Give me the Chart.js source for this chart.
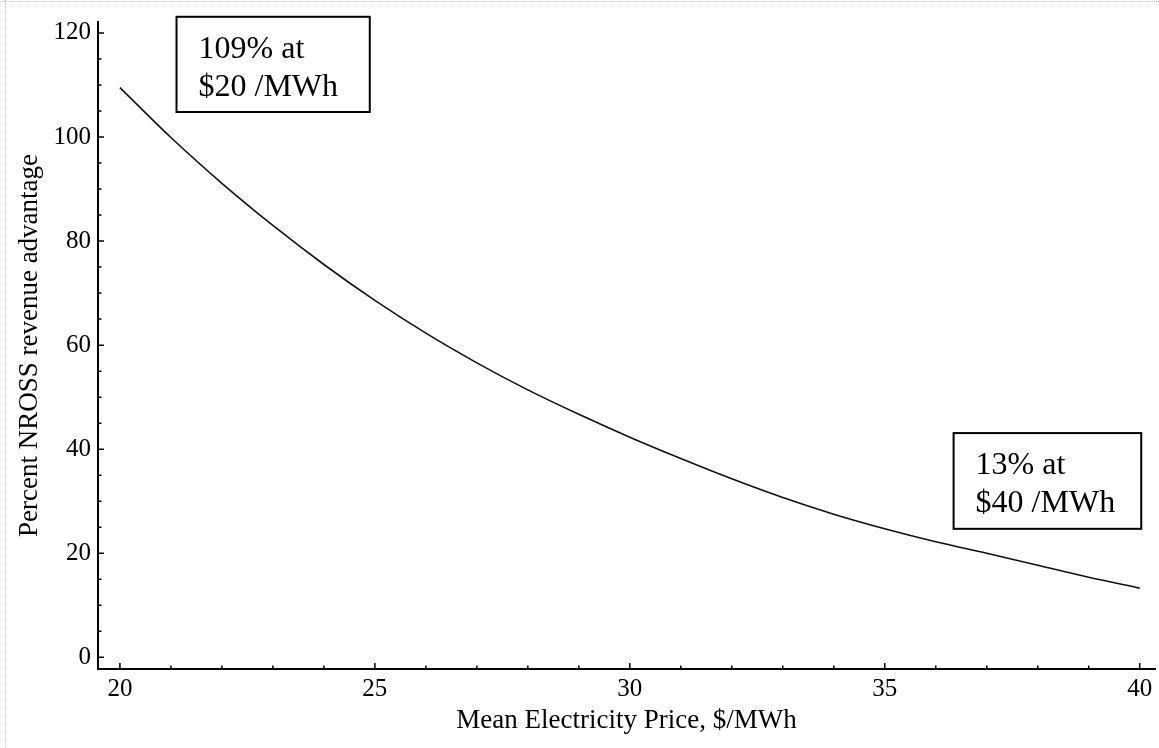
<!DOCTYPE html>
<html>
<head>
<meta charset="utf-8">
<script src="https://cdn.jsdelivr.net/npm/chart.js@4"></script>
<style>
  body { margin: 0; background: #fff; }
  #wrap { position: relative; width: 1159px; height: 748px; }
  .scanLeft { position: absolute; left: 5px; top: 0; width: 0; height: 748px; border-left: 1px dotted #c8c8c8; }
  .scanTop { position: absolute; left: 0; top: 1px; width: 1159px; height: 0; border-top: 1px dotted #d0d0d0; }
</style>
</head>
<body>
<div id="wrap">
  <canvas id="chart"></canvas>
  <div class="scanLeft"></div>
  <div class="scanTop"></div>
</div>
<script>
// mean electricity price ($/MWh) and NROSS revenue advantage (%)
const prices = [20, 21, 22, 23, 24, 25, 26, 27, 28, 29, 30, 31, 32, 33, 34, 35, 36, 37, 38, 39, 40];
const advantage = [109.5, 99.9, 91.1, 83.0, 75.5, 68.6, 62.3, 56.6, 51.4, 46.7, 42.3, 38.2, 34.3, 30.7, 27.5, 24.7, 22.2, 20.0, 17.7, 15.4, 13.3];

const xTicks = [20, 25, 30, 35, 40];
const xMinor = [21, 22, 23, 24, 26, 27, 28, 29, 31, 32, 33, 34, 36, 37, 38, 39];
const yTicks = [0, 20, 40, 60, 80, 100, 120];
const yMinor = [5, 10, 15, 25, 30, 35, 45, 50, 55, 65, 70, 75, 85, 90, 95, 105, 110, 115];

// callout boxes, corners in data units
const notes = [
  { lines: ['109% at', '$20 /MWh'], x0: 21.11, x1: 24.9, y0: 123.1, y1: 104.8 },
  { lines: ['13% at', '$40 /MWh'], x0: 36.35, x1: 40.03, y0: 43.1, y1: 24.7 }
];

const serif = '"Liberation Serif", "DejaVu Serif", serif';

// ticks point into the plot, plus the callout boxes
const inwardTicks = {
  id: 'inwardTicks',
  afterDraw(chart) {
    const { ctx, chartArea: a, scales: { x, y } } = chart;
    ctx.save();
    ctx.strokeStyle = '#000';
    ctx.lineWidth = 1.5;
    ctx.beginPath();
    xTicks.forEach(v => { const p = x.getPixelForValue(v); ctx.moveTo(p, a.bottom); ctx.lineTo(p, a.bottom - 6); });
    xMinor.forEach(v => { const p = x.getPixelForValue(v); ctx.moveTo(p, a.bottom); ctx.lineTo(p, a.bottom - 3.5); });
    yTicks.forEach(v => { const p = y.getPixelForValue(v); ctx.moveTo(a.left, p); ctx.lineTo(a.left + 6, p); });
    yMinor.forEach(v => { const p = y.getPixelForValue(v); ctx.moveTo(a.left, p); ctx.lineTo(a.left + 3.5, p); });
    ctx.stroke();

    ctx.font = '32px ' + serif;
    ctx.lineWidth = 2;
    notes.forEach(n => {
      const l = x.getPixelForValue(n.x0), r = x.getPixelForValue(n.x1);
      const t = y.getPixelForValue(n.y0), b = y.getPixelForValue(n.y1);
      ctx.fillStyle = '#fff';
      ctx.fillRect(l, t, r - l, b - t);
      ctx.strokeRect(l, t, r - l, b - t);
      ctx.fillStyle = '#000';
      n.lines.forEach((s, i) => ctx.fillText(s, l + 22, t + 41 + i * 38));
    });
    ctx.restore();
  }
};

new Chart(document.getElementById('chart'), {
  type: 'line',
  data: {
    datasets: [{
      data: prices.map((p, i) => ({ x: p, y: advantage[i] })),
      borderColor: '#111',
      borderWidth: 1.6,
      pointRadius: 0,
      cubicInterpolationMode: 'monotone',
      fill: false
    }]
  },
  options: {
    responsive: true,
    maintainAspectRatio: false,
    animation: false,
    layout: { padding: { top: 18, right: 4, left: 0, bottom: 0 } },
    plugins: { legend: { display: false }, tooltip: { enabled: false } },
    scales: {
      x: {
        type: 'linear',
        min: 19.57,
        max: 40.3,
        grid: { display: false, drawTicks: false },
        border: { display: true, color: '#000', width: 2 },
        afterBuildTicks: s => { s.ticks = xTicks.map(v => ({ value: v })); },
        afterFit: s => { s.height = 79; },
        ticks: { color: '#000', font: { family: serif, size: 25 }, padding: 5, maxRotation: 0 },
        title: { display: true, text: 'Mean Electricity Price, $/MWh', color: '#000', font: { family: serif, size: 27 }, padding: { top: 0, bottom: 11 } }
      },
      y: {
        min: -2.24,
        max: 122.1,
        grid: { display: false, drawTicks: false },
        border: { display: true, color: '#000', width: 2 },
        afterBuildTicks: s => { s.ticks = yTicks.map(v => ({ value: v })); },
        afterFit: s => { s.width = 98; },
        ticks: { color: '#000', font: { family: serif, size: 25 }, padding: 7 },
        title: { display: true, text: 'Percent NROSS revenue advantage', color: '#000', font: { family: serif, size: 27 }, padding: { top: 14, bottom: 0 } }
      }
    }
  },
  plugins: [inwardTicks]
});
</script>
</body>
</html>
